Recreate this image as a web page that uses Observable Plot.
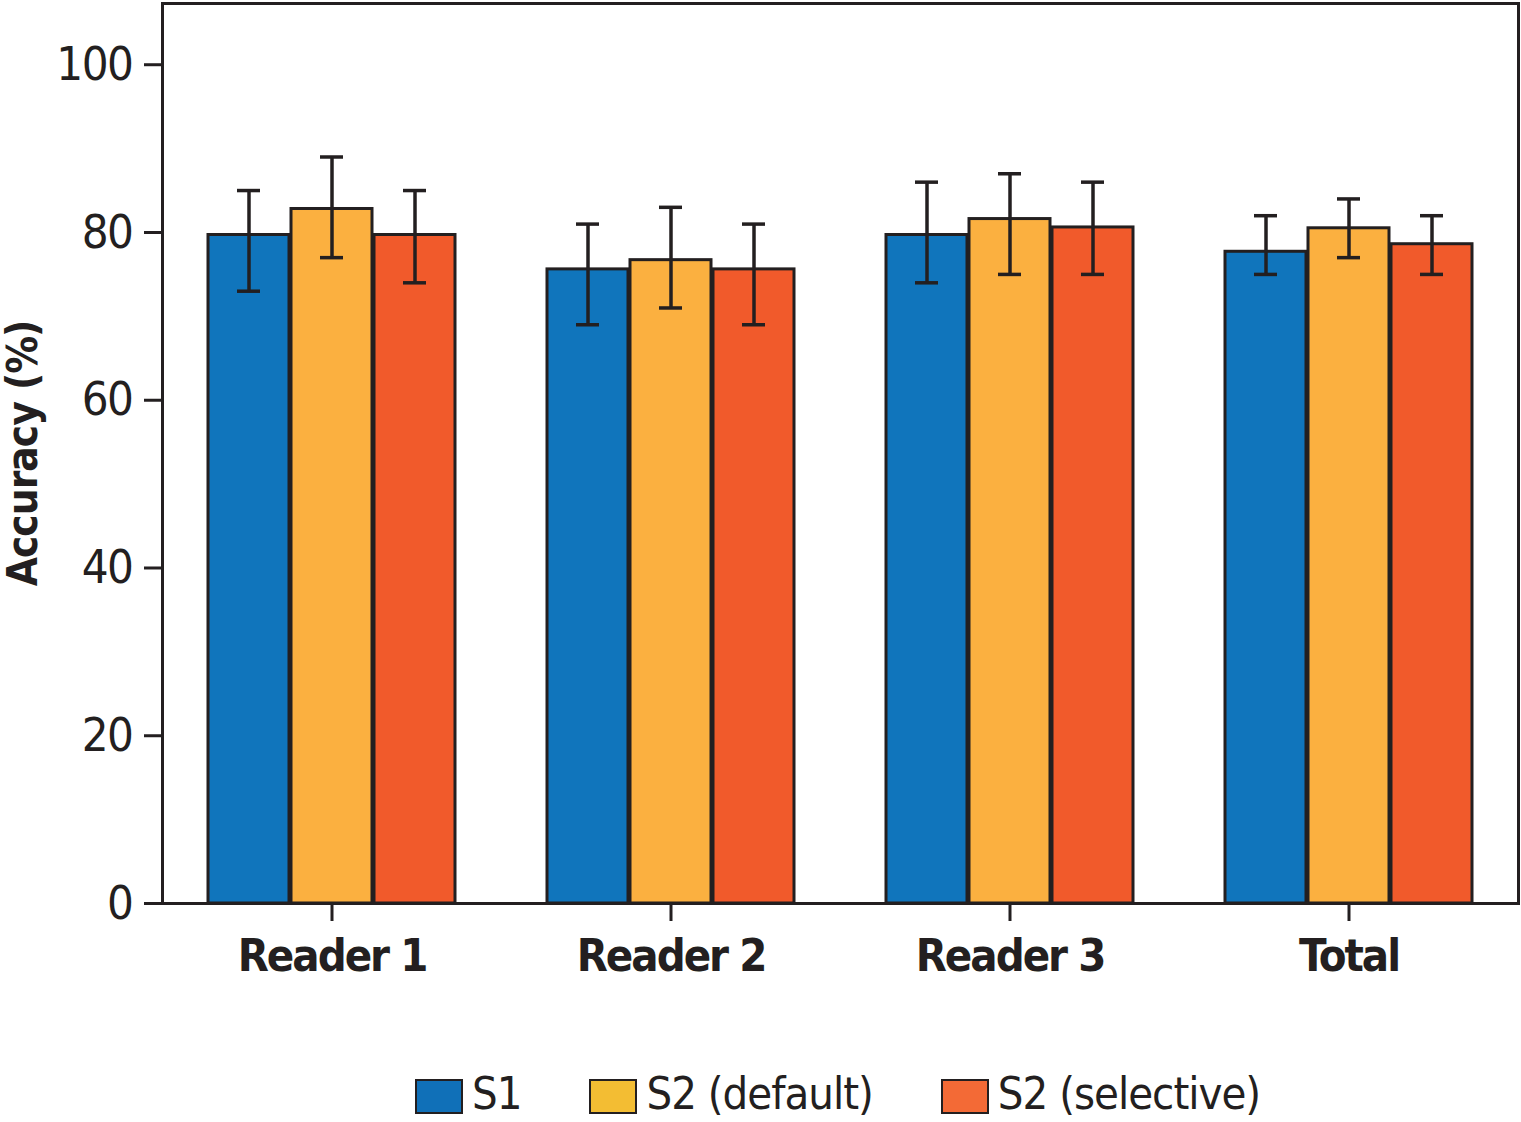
<!DOCTYPE html>
<html>
<head>
<meta charset="utf-8">
<script src="https://cdn.jsdelivr.net/npm/d3@7"></script>
<script src="https://cdn.jsdelivr.net/npm/@observablehq/plot@0.6"></script>
<style>
  html, body { margin: 0; padding: 0; background: #fff; }
  body { width: 1521px; height: 1122px; position: relative; overflow: hidden;
         font-family: "DejaVu Sans Condensed", "Liberation Sans Narrow", sans-serif; color: #231f20; }
  #legend { position: absolute; left: 415px; top: 1071px; display: flex; align-items: center;
            font-size: 45px; line-height: 1; letter-spacing: -1px; }
  #legend .item { display: flex; align-items: center; margin-right: 68px; }
  #legend .sw { width: 44px; height: 31px; border: 2px solid #231f20; margin-right: 9px; margin-top: 6px; }
  #chart g[aria-label="y-axis tick label"] text { letter-spacing: -1.5px; }
  #chart g[aria-label="fx-axis tick label"] text { letter-spacing: -2px; }
  #chart g[aria-label="y-axis label"] text { letter-spacing: -1px; }
</style>
</head>
<body>
<div id="chart"></div>
<div id="legend"></div>
<script>
const groups = ["Reader 1", "Reader 2", "Reader 3", "Total"];
const series = ["S1", "S2 (default)", "S2 (selective)"];
const colors = ["#1075bc", "#fbb040", "#f15a2b"];
const legendColors = ["#1070b8", "#f3bd33", "#f36a36"];

const s1Value = [79.7, 75.6, 79.7, 77.7];
const s1Low   = [73, 69, 74, 75];
const s1High  = [85, 81, 86, 82];

const s2dValue = [82.8, 76.7, 81.6, 80.5];
const s2dLow   = [77, 71, 75, 77];
const s2dHigh  = [89, 83, 87, 84];

const s2sValue = [79.7, 75.6, 80.6, 78.6];
const s2sLow   = [74, 69, 75, 75];
const s2sHigh  = [85, 81, 86, 82];

const yTicks = [0, 20, 40, 60, 80, 100];

const seriesData = [
  [s1Value, s1Low, s1High],
  [s2dValue, s2dLow, s2dHigh],
  [s2sValue, s2sLow, s2sHigh]
];
const data = [];
groups.forEach((g, gi) => {
  series.forEach((s, si) => {
    const [v, lo, hi] = seriesData[si];
    data.push({group: g, series: s, value: v[gi], lo: lo[gi], hi: hi[gi]});
  });
});

const ink = "#231f20";
const font = '"DejaVu Sans Condensed", "Liberation Sans Narrow", sans-serif';

const chart = Plot.plot({
  width: 1521,
  height: 1045,
  marginTop: 3,
  marginBottom: 142,
  marginLeft: 160,
  marginRight: 2,
  style: {fontFamily: font, color: ink, background: "#fff", overflow: "visible"},
  fx: {domain: groups, padding: 0, label: null},
  x: {domain: series, paddingInner: 0.02, paddingOuter: 0.55, axis: null},
  y: {domain: [0, 107.3], label: null},
  color: {domain: series, range: colors},
  marks: [
    Plot.barY(data, {fx: "group", x: "series", y: "value", fill: "series", stroke: ink, strokeWidth: 3}),
    Plot.ruleX(data, {fx: "group", x: "series", y1: "lo", y2: "hi", stroke: ink, strokeWidth: 3.5}),
    Plot.tickY(data, {fx: "group", x: "series", y: "lo", stroke: ink, strokeWidth: 3.5, insetLeft: 29, insetRight: 29}),
    Plot.tickY(data, {fx: "group", x: "series", y: "hi", stroke: ink, strokeWidth: 3.5, insetLeft: 29, insetRight: 29}),
    Plot.frame({anchor: "bottom", stroke: ink, strokeWidth: 3}),
    Plot.frame({anchor: "top", stroke: ink, strokeWidth: 3}),
    Plot.frame({anchor: "left", facetAnchor: "left", stroke: ink, strokeWidth: 3}),
    Plot.frame({anchor: "right", facetAnchor: "right", stroke: ink, strokeWidth: 3}),
    Plot.axisY({ticks: yTicks, tickSize: 18, tickPadding: 12, fontSize: 47, stroke: ink, strokeWidth: 3,
                label: "Accuracy (%)", labelArrow: "none", labelAnchor: "center", labelOffset: 155}),
    Plot.axisFx({anchor: "bottom", tickSize: 18, tickPadding: 18, fontSize: 45, fontWeight: "bold",
                 stroke: ink, strokeWidth: 3, label: null})
  ]
});
document.getElementById("chart").appendChild(chart);

// y-axis label: bold, no arrow
chart.querySelectorAll("text").forEach(t => {
  if (t.textContent.startsWith("Accuracy")) {
    t.textContent = "Accuracy (%)";
    t.setAttribute("font-weight", "bold");
    t.setAttribute("font-size", "42");
  }
});

const legend = document.getElementById("legend");
series.forEach((s, i) => {
  const item = document.createElement("div");
  item.className = "item";
  const sw = document.createElement("div");
  sw.className = "sw";
  sw.style.background = legendColors[i];
  const lab = document.createElement("span");
  lab.textContent = s;
  item.appendChild(sw);
  item.appendChild(lab);
  legend.appendChild(item);
});
</script>
</body>
</html>
